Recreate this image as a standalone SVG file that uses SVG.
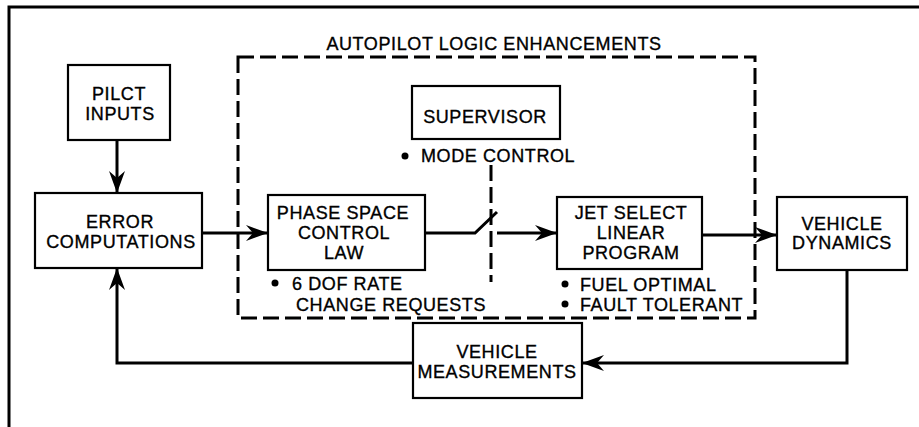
<svg xmlns="http://www.w3.org/2000/svg" width="919" height="427" viewBox="0 0 919 427">
<style>
  .box { fill: #fff; stroke: #000; stroke-width: 2.2; }
  .t { font-family: "Liberation Sans", Arial, sans-serif; font-size: 18px; fill: #000; text-anchor: middle; letter-spacing: 0.6px; stroke: #000; stroke-width: 0.35; }
  .ts { text-anchor: start; }
  .line { fill: none; stroke: #000; stroke-width: 3; }
  .dash { fill: none; stroke: #000; stroke-width: 3; stroke-dasharray: 16 6; }
</style>
<defs>
  <marker id="arr" markerUnits="userSpaceOnUse" viewBox="0 0 22 16" refX="22" refY="8" markerWidth="22" markerHeight="16" orient="auto">
    <path d="M0,0 L22,8 L0,16 L7,8 Z" fill="#000"/>
  </marker>
</defs>
<rect width="919" height="427" fill="#fff"/>
<g id="frame">
  <path class="line" d="M9,427 L9,7 L919,7"/>
</g>
<g id="autopilot-group">
  <rect class="dash" x="238" y="57" width="517" height="261"/>
  <text class="t" x="494" y="50">AUTOPILOT LOGIC ENHANCEMENTS</text>
</g>
<g id="connectors">
  <line class="line" x1="117" y1="140" x2="117" y2="193" marker-end="url(#arr)"/>
  <line class="line" x1="202" y1="233" x2="268" y2="233" marker-end="url(#arr)"/>
  <polyline class="line" points="425,233 475,233 497,212"/>
  <line class="line" x1="497" y1="233" x2="557" y2="233" marker-end="url(#arr)"/>
  <line class="dash" x1="491" y1="165" x2="491" y2="282"/>
  <line class="line" x1="702" y1="235" x2="777" y2="235" marker-end="url(#arr)"/>
  <polyline class="line" points="847,270 847,363 582,363" marker-end="url(#arr)"/>
  <polyline class="line" points="413,363 117,363 117,268" marker-end="url(#arr)"/>
</g>
<g id="pilot-inputs">
  <rect class="box" x="68" y="65" width="102" height="75"/>
  <text class="t" x="119" y="100">PILCT</text>
  <text class="t" x="120" y="120">INPUTS</text>
</g>
<g id="error-computations">
  <rect class="box" x="35" y="193" width="167" height="75"/>
  <text class="t" x="120" y="228">ERROR</text>
  <text class="t" x="121" y="248">COMPUTATIONS</text>
</g>
<g id="supervisor">
  <rect class="box" x="412" y="86" width="148" height="53"/>
  <text class="t" x="485" y="123">SUPERVISOR</text>
  <circle cx="405" cy="156" r="3.5" fill="#000"/>
  <text class="t ts" x="421" y="162">MODE CONTROL</text>
</g>
<g id="phase-space">
  <rect class="box" x="268" y="195" width="157" height="75"/>
  <text class="t" x="343" y="219">PHASE SPACE</text>
  <text class="t" x="344" y="239">CONTROL</text>
  <text class="t" x="344" y="259">LAW</text>
  <circle cx="275" cy="283" r="3.5" fill="#000"/>
  <text class="t ts" x="292" y="290">6 DOF RATE</text>
  <text class="t ts" x="296" y="311">CHANGE REQUESTS</text>
</g>
<g id="jet-select">
  <rect class="box" x="557" y="197" width="145" height="72"/>
  <text class="t" x="631" y="219">JET SELECT</text>
  <text class="t" x="631" y="239">LINEAR</text>
  <text class="t" x="631" y="259">PROGRAM</text>
  <circle cx="565" cy="284" r="3.5" fill="#000"/>
  <text class="t ts" x="580" y="291">FUEL OPTIMAL</text>
  <circle cx="565" cy="304" r="3.5" fill="#000"/>
  <text class="t ts" x="580" y="311">FAULT TOLERANT</text>
</g>
<g id="vehicle-dynamics">
  <rect class="box" x="777" y="197" width="130" height="73"/>
  <text class="t" x="842" y="230">VEHICLE</text>
  <text class="t" x="842" y="249">DYNAMICS</text>
</g>
<g id="vehicle-measurements">
  <rect class="box" x="413" y="323" width="169" height="75"/>
  <text class="t" x="497" y="358">VEHICLE</text>
  <text class="t" x="497" y="378">MEASUREMENTS</text>
</g>
</svg>
